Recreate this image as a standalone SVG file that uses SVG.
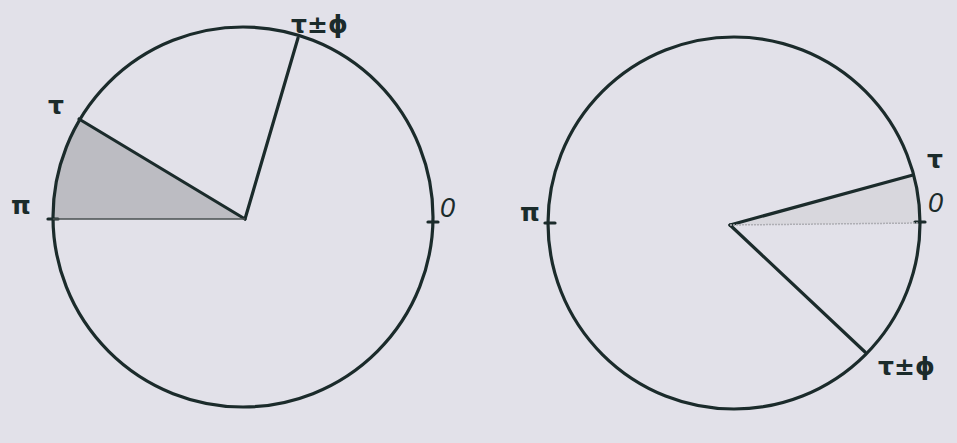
<svg xmlns="http://www.w3.org/2000/svg" width="957" height="443" viewBox="0 0 957 443">
<style>
.ln{fill:none;stroke:#1b2b2b;stroke-width:3.2;stroke-linecap:round}
.circ{fill:none;stroke:#1b2b2b;stroke-width:3.2}
.lbl{font-family:"DejaVu Sans","Liberation Sans",sans-serif;font-weight:bold;fill:#1b2b2b;font-size:25px}
.zero{font-family:"Liberation Sans",sans-serif;font-style:italic;fill:#1b2b2b;font-size:27px}
</style>
<rect width="957" height="443" fill="#e2e1e9"/>
<g id="left-circle">
<path d="M245,219 L79,119 A190,190 0 0 0 53,219 Z" fill="#bcbcc2"/>
<circle class="circ" cx="243" cy="217" r="190"/>
<line class="ln" x1="48" y1="219" x2="58" y2="219"/>
<line class="ln" x1="428" y1="222" x2="438" y2="222"/>
</g>
<g id="right-circle">
<path d="M730,225 L913,175 A186,186 0 0 1 920,223 Z" fill="#d8d7dd"/>
<circle class="circ" cx="734" cy="223" r="186"/>
<line class="ln" x1="545" y1="223" x2="555" y2="223"/>
<line class="ln" x1="915" y1="222" x2="925" y2="222"/>
</g>
<g id="connectors">
<line class="ln" x1="245" y1="219" x2="79" y2="119"/>
<line class="ln" x1="245" y1="219" x2="298" y2="38"/>
<line x1="53" y1="219" x2="245" y2="219" stroke="#4a5050" stroke-width="1.5"/>
<line class="ln" x1="730" y1="225" x2="913" y2="175"/>
<line class="ln" x1="730" y1="225" x2="865" y2="352"/>
<line x1="730" y1="225" x2="919" y2="223" stroke="#aeaeb4" stroke-width="1.5" stroke-dasharray="2 1"/>
</g>
<g id="labels">
<text class="lbl" x="48" y="114">τ</text>
<text class="lbl" x="291" y="33">τ±ϕ</text>
<text class="lbl" x="11" y="214">π</text>
<text class="zero" x="440" y="217">0</text>
<text class="lbl" x="520" y="221">π</text>
<text class="lbl" x="927" y="168">τ</text>
<text class="zero" x="928" y="212">0</text>
<text class="lbl" x="878" y="375">τ±ϕ</text>
</g>
</svg>
